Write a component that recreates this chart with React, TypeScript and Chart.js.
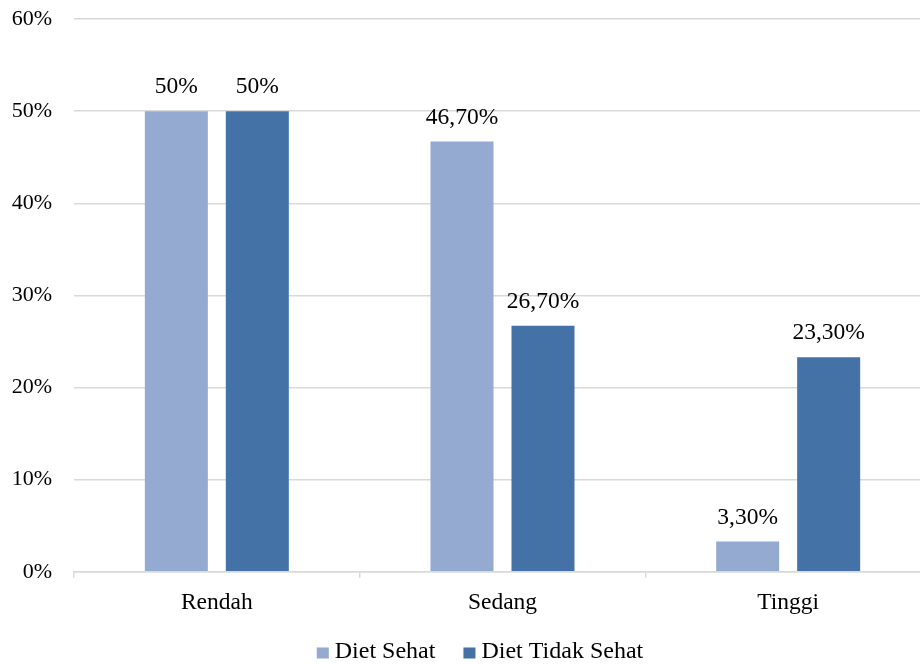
import React, { useEffect, useRef } from "react";
import { Chart, registerables } from "chart.js";

Chart.register(...registerables);

const categories = ["Rendah", "Sedang", "Tinggi"];
const seriesNames = ["Diet Sehat", "Diet Tidak Sehat"];
const dietSehat = [50, 46.7, 3.3];
const dietTidakSehat = [50, 26.7, 23.3];
const dietSehatLabels = ["50%", "46,70%", "3,30%"];
const dietTidakSehatLabels = ["50%", "26,70%", "23,30%"];
const yTicks = [0, 10, 20, 30, 40, 50, 60];
const colors = ["#94aad1", "#4472a7"];

const FONT = '"Liberation Serif", "Times New Roman", serif';

const dataLabelPlugin = {
  id: "dataLabels",
  afterDatasetsDraw(chart: any) {
    const ctx = chart.ctx;
    const labelSets = [dietSehatLabels, dietTidakSehatLabels];
    ctx.save();
    ctx.font = `23.5px ${FONT}`;
    ctx.fillStyle = "#000";
    ctx.textAlign = "center";
    ctx.textBaseline = "middle";
    chart.data.datasets.forEach((_: any, di: number) => {
      const meta = chart.getDatasetMeta(di);
      meta.data.forEach((el: any, i: number) => {
        ctx.fillText(labelSets[di][i], el.x, el.y - 24);
      });
    });
    ctx.restore();
  },
};

const legendPlugin = {
  id: "customLegend",
  afterDraw(chart: any) {
    const ctx = chart.ctx;
    ctx.save();
    ctx.font = `24px ${FONT}`;
    ctx.textBaseline = "middle";
    ctx.textAlign = "left";
    const boxW = 12;
    const boxH = 11;
    const gapBoxText = 6;
    const gapItems = 28;
    const widths = seriesNames.map((n) => boxW + gapBoxText + ctx.measureText(n).width);
    const total = widths.reduce((a, b) => a + b, 0) + gapItems * (seriesNames.length - 1);
    const centerX = 480;
    const y = chart.height - 12;
    let x = centerX - total / 2;
    seriesNames.forEach((n, i) => {
      ctx.fillStyle = colors[i];
      ctx.fillRect(x, y - boxH / 2 + 1, boxW, boxH);
      ctx.fillStyle = "#000";
      ctx.fillText(n, x + boxW + gapBoxText, y);
      x += widths[i] + gapItems;
    });
    ctx.restore();
  },
};

export default function App() {
  const ref = useRef<HTMLCanvasElement>(null);
  useEffect(() => {
    if (!ref.current) return;
    const chart = new Chart(ref.current, {
      type: "bar",
      data: {
        labels: categories,
        datasets: [
          {
            label: seriesNames[0],
            data: dietSehat,
            backgroundColor: colors[0],
            categoryPercentage: 0.567,
            barPercentage: 0.778,
          },
          {
            label: seriesNames[1],
            data: dietTidakSehat,
            backgroundColor: colors[1],
            categoryPercentage: 0.567,
            barPercentage: 0.778,
          },
        ],
      },
      options: {
        responsive: false,
        animation: false,
        layout: { padding: { left: 11, right: 0, top: 0, bottom: 36 } },
        plugins: {
          tooltip: { enabled: false },
          legend: { display: false },
        },
        scales: {
          x: {
            offset: true,
            grid: {
              offset: true,
              drawOnChartArea: false,
              drawTicks: true,
              tickLength: 6,
              color: "#d9d9d9",
              lineWidth: 1.5,
            },
            border: { color: "#d9d9d9", width: 1.5 },
            ticks: {
              color: "#000",
              font: { family: FONT, size: 23.5 },
              padding: 11,
            },
          },
          y: {
            min: 0,
            max: 60,
            afterBuildTicks(axis: any) {
              axis.ticks = yTicks.map((v) => ({ value: v }));
            },
            afterFit(axis: any) {
              axis.width = 63;
              axis.paddingTop = 19;
              axis.paddingBottom = 0;
            },
            grid: { color: "#d9d9d9", lineWidth: 1.5, drawTicks: false },
            border: { display: false },
            ticks: {
              color: "#000",
              font: { family: FONT, size: 22 },
              padding: 22,
              callback: (v: any) => `${v}%`,
            },
          },
        },
      },
      plugins: [dataLabelPlugin, legendPlugin],
    });
    return () => chart.destroy();
  }, []);
  return (
    <div
      style={{
        position: "fixed",
        left: 0,
        top: 0,
        width: 920,
        height: 664,
        overflow: "hidden",
        background: "#fff",
      }}
    >
      <canvas ref={ref} width={931} height={664} />
    </div>
  );
}
